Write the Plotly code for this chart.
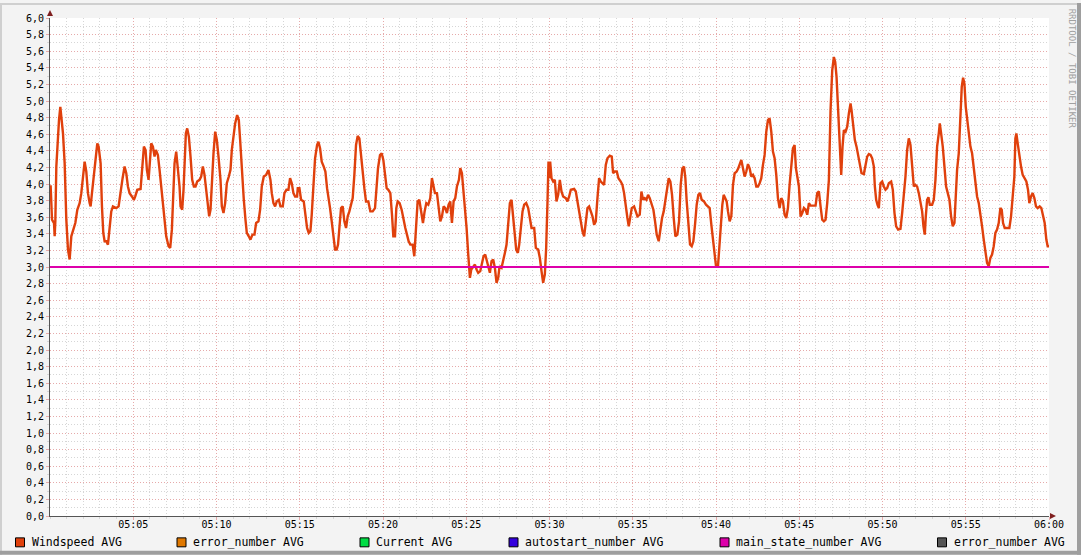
import pandas as pd
import plotly.graph_objects as go

# ---------------- data ----------------
# Windspeed AVG: (minutes after 05:00, value)
wind_part1 = [
    (0.00, 3.97), (0.04, 3.97), (0.12, 3.57), (0.24, 3.53), (0.28, 3.37), (0.32, 3.55), (0.38, 4.21), (0.44, 4.45), (0.54, 4.77), (0.62, 4.93),
    (0.72, 4.77), (0.78, 4.61), (0.88, 4.25), (0.98, 3.57), (1.08, 3.21), (1.18, 3.09), (1.28, 3.37), (1.38, 3.45), (1.52, 3.53), (1.64, 3.69),
    (1.78, 3.77), (1.88, 3.89), (1.98, 4.05), (2.08, 4.27), (2.18, 4.15), (2.28, 3.89), (2.38, 3.77), (2.44, 3.73), (2.52, 3.89), (2.62, 4.09),
    (2.72, 4.33), (2.84, 4.49), (2.92, 4.45), (3.04, 4.25), (3.12, 3.73), (3.20, 3.41), (3.28, 3.31), (3.38, 3.31), (3.48, 3.27), (3.58, 3.45),
    (3.68, 3.67), (3.78, 3.73), (3.98, 3.71), (4.12, 3.73), (4.24, 3.93), (4.36, 4.07), (4.48, 4.21), (4.58, 4.13), (4.68, 3.97), (4.78, 3.89),
    (4.92, 3.85), (5.04, 3.81), (5.12, 3.85), (5.24, 3.93), (5.44, 3.94), (5.54, 4.17), (5.64, 4.45), (5.74, 4.41), (5.82, 4.17), (5.92, 4.05),
    (5.98, 4.25), (6.08, 4.49), (6.18, 4.45), (6.28, 4.33), (6.36, 4.41), (6.48, 4.35), (6.58, 4.17), (6.68, 3.97), (6.78, 3.77), (6.88, 3.61),
    (6.98, 3.37), (7.12, 3.25), (7.22, 3.23), (7.32, 3.45), (7.40, 3.77), (7.48, 4.25), (7.58, 4.39), (7.68, 4.21), (7.78, 3.97), (7.84, 3.73),
    (7.94, 3.69), (8.02, 3.93), (8.08, 4.25), (8.16, 4.61), (8.24, 4.67), (8.34, 4.57), (8.44, 4.33), (8.54, 4.05), (8.64, 3.97), (8.74, 3.97),
    (8.84, 4.03), (8.98, 4.05), (9.08, 4.09), (9.18, 4.21), (9.28, 4.11), (9.38, 3.93), (9.48, 3.69), (9.56, 3.61), (9.64, 3.69), (9.72, 4.01),
    (9.82, 4.37), (9.92, 4.63), (10.02, 4.53), (10.12, 4.33), (10.24, 4.05), (10.32, 3.73), (10.42, 3.65), (10.52, 3.77), (10.62, 4.01), (10.74, 4.09),
    (10.84, 4.17), (10.92, 4.41), (11.02, 4.57), (11.12, 4.73), (11.24, 4.83), (11.34, 4.77), (11.42, 4.53), (11.52, 4.17), (11.64, 3.81), (11.74, 3.57),
    (11.82, 3.41), (11.94, 3.37), (12.04, 3.33), (12.16, 3.39), (12.28, 3.39), (12.38, 3.53), (12.52, 3.55), (12.62, 3.69), (12.72, 3.97), (12.84, 4.09),
    (12.98, 4.11), (13.12, 4.17), (13.24, 4.05), (13.32, 3.89), (13.42, 3.77), (13.52, 3.73), (13.62, 3.79), (13.74, 3.81), (13.84, 3.73), (13.98, 3.73),
    (14.08, 3.89), (14.20, 3.93), (14.32, 3.93), (14.42, 4.07), (14.52, 4.01), (14.62, 3.89), (14.72, 3.85), (14.84, 3.85),
]
wind_part2 = [
    (14.88, 3.95), (14.98, 3.95), (15.08, 3.81), (15.24, 3.79), (15.32, 3.67), (15.44, 3.47), (15.54, 3.41), (15.64, 3.43), (15.72, 3.63), (15.82, 3.95),
    (15.92, 4.31), (16.04, 4.47), (16.12, 4.51), (16.22, 4.43), (16.32, 4.27), (16.44, 4.21), (16.54, 4.15), (16.64, 3.95), (16.74, 3.83), (16.82, 3.71),
    (16.92, 3.55), (17.02, 3.35), (17.12, 3.21), (17.22, 3.21), (17.30, 3.27), (17.38, 3.47), (17.48, 3.71), (17.58, 3.73), (17.68, 3.55), (17.78, 3.47),
    (17.88, 3.61), (17.98, 3.67), (18.08, 3.75), (18.18, 3.83), (18.28, 4.11), (18.38, 4.47), (18.48, 4.58), (18.58, 4.55), (18.68, 4.35), (18.78, 4.11),
    (18.88, 3.95), (18.98, 3.79), (19.12, 3.79), (19.24, 3.67), (19.38, 3.67), (19.52, 3.71), (19.60, 3.91), (19.70, 4.19), (19.82, 4.35), (19.92, 4.37),
    (20.02, 4.29), (20.12, 4.15), (20.22, 3.95), (20.32, 3.93), (20.44, 3.89), (20.54, 3.63), (20.62, 3.37), (20.72, 3.37), (20.80, 3.71), (20.88, 3.79),
    (21.00, 3.77), (21.12, 3.69), (21.24, 3.55), (21.34, 3.47), (21.44, 3.39), (21.54, 3.31), (21.64, 3.27), (21.78, 3.27), (21.88, 3.13), (21.98, 3.55),
    (22.08, 3.79), (22.18, 3.81), (22.28, 3.67), (22.40, 3.53), (22.50, 3.67), (22.60, 3.77), (22.72, 3.75), (22.84, 3.83), (22.94, 4.07), (23.02, 3.99),
    (23.12, 3.89), (23.24, 3.89), (23.34, 3.71), (23.44, 3.55), (23.54, 3.61), (23.64, 3.73), (23.74, 3.71), (23.84, 3.65), (23.94, 3.75), (24.04, 3.79),
    (24.14, 3.53), (24.24, 3.79), (24.34, 3.83), (24.44, 3.97), (24.56, 4.05), (24.64, 4.19), (24.74, 4.13), (24.82, 3.95), (24.92, 3.71), (25.02, 3.47),
    (25.12, 3.15), (25.22, 2.87), (25.30, 2.97), (25.42, 3.01), (25.52, 3.03), (25.62, 2.97), (25.72, 2.93), (25.84, 2.95), (25.94, 3.05), (26.04, 3.13),
    (26.14, 3.15), (26.24, 3.07), (26.32, 2.99), (26.42, 2.93), (26.52, 3.07), (26.62, 3.09), (26.72, 2.99), (26.82, 2.81), (26.92, 2.87), (27.00, 3.01),
    (27.12, 2.99), (27.22, 3.07), (27.32, 3.17), (27.42, 3.27), (27.52, 3.59), (27.62, 3.77), (27.72, 3.81), (27.80, 3.63), (27.90, 3.43), (28.00, 3.21),
    (28.10, 3.17), (28.18, 3.27), (28.28, 3.47), (28.38, 3.67), (28.48, 3.75), (28.60, 3.77), (28.72, 3.71), (28.82, 3.59), (28.92, 3.47), (29.08, 3.47),
    (29.18, 3.23), (29.32, 3.21), (29.42, 3.11), (29.52, 2.95), (29.62, 2.81), (29.72, 2.91), (29.80, 3.23), (29.88, 3.79),
]
wind_part3 = [
    (29.94, 4.27), (29.98, 4.07), (30.04, 4.27), (30.12, 4.07), (30.22, 4.03), (30.32, 4.05), (30.42, 3.79), (30.52, 3.87), (30.62, 4.05), (30.72, 3.91),
    (30.82, 3.85), (30.98, 3.83), (31.08, 3.79), (31.18, 3.85), (31.28, 3.93), (31.48, 3.94), (31.58, 3.91), (31.68, 3.79), (31.78, 3.67), (31.88, 3.51),
    (31.98, 3.43), (32.08, 3.37), (32.18, 3.51), (32.28, 3.71), (32.38, 3.73), (32.48, 3.67), (32.58, 3.61), (32.68, 3.51), (32.78, 3.55), (32.88, 3.83),
    (32.98, 4.07), (33.08, 4.03), (33.18, 4.01), (33.28, 3.99), (33.38, 4.23), (33.48, 4.31), (33.62, 4.34), (33.74, 4.33), (33.82, 4.13), (33.92, 4.15),
    (34.04, 4.15), (34.14, 4.07), (34.28, 4.03), (34.38, 3.99), (34.48, 3.89), (34.58, 3.71), (34.68, 3.59), (34.76, 3.49), (34.84, 3.59), (34.94, 3.71),
    (35.08, 3.73), (35.18, 3.67), (35.28, 3.61), (35.42, 3.63), (35.52, 3.91), (35.62, 3.81), (35.72, 3.83), (35.82, 3.81), (35.92, 3.87), (36.02, 3.83),
    (36.12, 3.75), (36.24, 3.69), (36.34, 3.55), (36.44, 3.39), (36.56, 3.31), (36.66, 3.47), (36.76, 3.59), (36.86, 3.67), (36.96, 3.79), (37.06, 3.95),
    (37.16, 4.07), (37.26, 4.03), (37.36, 3.87), (37.46, 3.59), (37.56, 3.37), (37.68, 3.39), (37.78, 3.55), (37.88, 3.99), (37.98, 4.19), (38.08, 4.21),
    (38.16, 4.07), (38.24, 3.79), (38.34, 3.55), (38.44, 3.27), (38.54, 3.25), (38.64, 3.31), (38.74, 3.51), (38.84, 3.75), (38.94, 3.87), (39.04, 3.89),
    (39.14, 3.81), (39.28, 3.79), (39.40, 3.75), (39.52, 3.73), (39.62, 3.71), (39.72, 3.51), (39.82, 3.35), (39.92, 3.15), (40.00, 3.01), (40.12, 3.01),
    (40.20, 3.23), (40.28, 3.55), (40.38, 3.75), (40.46, 3.87), (40.56, 3.83), (40.64, 3.79), (40.72, 3.67), (40.82, 3.55), (40.92, 3.61), (41.02, 3.99),
    (41.12, 4.13), (41.24, 4.15), (41.34, 4.19), (41.44, 4.25), (41.52, 4.29), (41.62, 4.19), (41.72, 4.09), (41.82, 4.15), (41.92, 4.24), (42.02, 4.19),
    (42.12, 4.09), (42.22, 4.11), (42.32, 4.07), (42.42, 3.97), (42.52, 3.97), (42.62, 4.01), (42.72, 4.07), (42.82, 4.23), (42.92, 4.35), (43.02, 4.63),
    (43.12, 4.77), (43.22, 4.79), (43.32, 4.63), (43.42, 4.39), (43.52, 4.31), (43.62, 4.11), (43.72, 3.83), (43.82, 3.71), (43.92, 3.83), (44.02, 3.79),
    (44.12, 3.63), (44.22, 3.59), (44.32, 3.71), (44.42, 3.99), (44.52, 4.27), (44.62, 4.43), (44.72, 4.47), (44.80, 4.19), (44.90, 4.07),
]
wind_part4 = [
    (44.98, 3.97), (45.08, 3.61), (45.18, 3.65), (45.28, 3.71), (45.38, 3.69), (45.48, 3.63), (45.58, 3.77), (45.68, 3.74), (45.98, 3.74), (46.08, 3.89),
    (46.18, 3.91), (46.28, 3.73), (46.38, 3.57), (46.48, 3.55), (46.58, 3.57), (46.68, 3.77), (46.78, 4.05), (46.88, 4.89), (46.98, 5.37), (47.08, 5.53),
    (47.16, 5.47), (47.24, 5.29), (47.34, 4.85), (47.44, 4.49), (47.52, 4.11), (47.60, 4.45), (47.68, 4.65), (47.78, 4.63), (47.88, 4.69), (47.98, 4.85),
    (48.08, 4.97), (48.14, 4.89), (48.24, 4.69), (48.34, 4.53), (48.44, 4.45), (48.54, 4.33), (48.64, 4.21), (48.74, 4.13), (48.88, 4.12), (48.98, 4.25),
    (49.08, 4.33), (49.18, 4.36), (49.28, 4.35), (49.38, 4.31), (49.48, 4.21), (49.54, 3.97), (49.62, 3.81), (49.70, 3.75), (49.78, 3.71), (49.88, 4.01),
    (49.98, 4.03), (50.08, 3.97), (50.18, 3.93), (50.28, 3.95), (50.38, 4.01), (50.52, 4.03), (50.62, 3.93), (50.72, 3.65), (50.82, 3.49), (50.94, 3.45),
    (51.08, 3.46), (51.18, 3.65), (51.28, 3.85), (51.38, 4.09), (51.48, 4.41), (51.58, 4.55), (51.68, 4.47), (51.78, 4.25), (51.88, 3.97), (51.98, 3.99),
    (52.08, 3.97), (52.18, 3.89), (52.28, 3.77), (52.38, 3.67), (52.46, 3.49), (52.54, 3.39), (52.60, 3.61), (52.68, 3.81), (52.76, 3.84), (52.84, 3.75),
    (52.98, 3.75), (53.08, 3.81), (53.18, 4.05), (53.28, 4.45), (53.38, 4.61), (53.44, 4.73), (53.52, 4.61), (53.62, 4.45), (53.72, 4.21), (53.82, 3.97),
    (53.92, 3.89), (54.02, 3.81), (54.12, 3.61), (54.22, 3.49), (54.32, 3.53), (54.40, 3.85), (54.48, 4.17), (54.58, 4.37), (54.68, 4.89), (54.76, 5.17),
    (54.84, 5.28), (54.92, 5.21), (55.00, 4.93), (55.08, 4.81), (55.18, 4.61), (55.28, 4.45), (55.38, 4.37), (55.48, 4.21), (55.58, 4.05), (55.68, 3.85),
    (55.78, 3.77), (55.88, 3.65), (55.98, 3.49), (56.08, 3.33), (56.18, 3.15), (56.28, 3.05), (56.38, 3.01), (56.48, 3.11), (56.58, 3.15), (56.68, 3.25),
    (56.78, 3.41), (56.88, 3.45), (56.98, 3.53), (57.08, 3.71), (57.16, 3.69), (57.24, 3.53), (57.34, 3.47), (57.62, 3.47), (57.72, 3.61), (57.82, 3.85),
    (57.92, 4.09), (57.98, 4.55), (58.04, 4.61), (58.12, 4.49), (58.22, 4.33), (58.32, 4.21), (58.42, 4.11), (58.52, 4.07), (58.64, 4.03), (58.74, 3.93),
    (58.82, 3.77), (58.92, 3.85), (59.02, 3.89), (59.12, 3.83), (59.22, 3.73), (59.32, 3.71), (59.44, 3.73), (59.54, 3.71), (59.64, 3.63), (59.74, 3.53),
    (59.84, 3.33), (59.92, 3.25), (60.00, 3.25),
]

# main_state_number AVG (constant)
main_state_minutes = [0.0, 60.0]
main_state_values = [3.0, 3.0]

start_time = "2024-01-01 05:00:00"
tick_labels = ["05:05", "05:10", "05:15", "05:20", "05:25", "05:30",
               "05:35", "05:40", "05:45", "05:50", "05:55", "06:00"]
tick_minutes = [5, 10, 15, 20, 25, 30, 35, 40, 45, 50, 55, 60]

legend_names = ["Windspeed AVG", "error_number AVG", "Current AVG",
                "autostart_number AVG", "main_state_number AVG", "error_number AVG"]
legend_colors = ["#E0400C", "#E07800", "#00DD44", "#3300DD", "#DD00AA", "#555555"]

# ---------------- figure ----------------
W, H = 1081, 555
ML, MR, MT, MB = 50, 32, 15, 39
PW, PH = W - ML - MR, H - MT - MB

base = pd.Timestamp(start_time)
wind = wind_part1 + wind_part2 + wind_part3 + wind_part4
wind_x = [base + pd.Timedelta(minutes=m) for m, _ in wind]
wind_y = [v for _, v in wind]
ms_x = [base + pd.Timedelta(minutes=m) for m in main_state_minutes]
tickvals = [base + pd.Timedelta(minutes=m) for m in tick_minutes]


def xp(px):
    return (px - ML) / PW


def yp(py):
    return (H - MB - py) / PH


FONT = "DejaVu Sans Mono"
MGRID = "#e6aaaa"
GRID = "#d6d6d6"

fig = go.Figure()
fig.add_trace(go.Scatter(x=wind_x, y=wind_y, mode="lines",
                         line=dict(color=legend_colors[0], width=2.4),
                         name=legend_names[0], showlegend=False, hoverinfo="skip"))
fig.add_trace(go.Scatter(x=ms_x, y=main_state_values, mode="lines",
                         line=dict(color=legend_colors[4], width=2),
                         name=legend_names[4], showlegend=False, hoverinfo="skip"))

fig.update_layout(
    width=W, height=H,
    margin=dict(l=ML, r=MR, t=MT, b=MB, pad=0),
    paper_bgcolor="#f3f3f3", plot_bgcolor="#ffffff",
    separators=",.",
    showlegend=False,
    font=dict(family=FONT, size=10, color="#000000"),
)
fig.update_xaxes(
    type="date",
    range=[base, base + pd.Timedelta(minutes=60)],
    tickvals=tickvals, ticktext=tick_labels,
    tickfont=dict(family=FONT, size=10, color="#000000"),
    ticklabelstandoff=-4,
    showgrid=True, gridcolor=MGRID, griddash="1px,2px", gridwidth=1,
    ticks="outside", ticklen=3, tickcolor=MGRID,
    minor=dict(dtick=60000, tick0=base, showgrid=True, gridcolor=GRID,
               griddash="1px,2px", ticks="outside", ticklen=2, tickcolor=GRID),
    showline=True, linecolor="#555555", linewidth=1,
    zeroline=False, fixedrange=True,
)
fig.update_yaxes(
    range=[0, 6], dtick=0.2, tick0=0, tickformat=".1f",
    tickfont=dict(family=FONT, size=10, color="#000000"),
    showgrid=True, gridcolor=MGRID, griddash="1px,2px", gridwidth=1,
    ticks="outside", ticklen=3, tickcolor=MGRID,
    minor=dict(dtick=0.1, tick0=0, showgrid=True, gridcolor=GRID,
               griddash="1px,2px", ticks="outside", ticklen=2, tickcolor=GRID),
    showline=True, linecolor="#555555", linewidth=1,
    zeroline=False, fixedrange=True,
)

shapes = []
# axis arrows
shapes.append(dict(type="path", xref="paper", yref="paper",
                   path=f"M {xp(1050)} {yp(513)} L {xp(1056)} {yp(516)} L {xp(1050)} {yp(519)} Z",
                   fillcolor="#7f1f1f", line=dict(width=0)))
shapes.append(dict(type="path", xref="paper", yref="paper",
                   path=f"M {xp(47)} {yp(13)} L {xp(50)} {yp(7)} L {xp(53)} {yp(13)} Z",
                   fillcolor="#7f1f1f", line=dict(width=0)))
# frame shading
shapes.append(dict(type="rect", xref="paper", yref="paper",
                   x0=xp(0), x1=xp(W), y0=yp(0), y1=yp(2), fillcolor="#cfcfcf", line=dict(width=0)))
shapes.append(dict(type="rect", xref="paper", yref="paper",
                   x0=xp(0), x1=xp(2), y0=yp(0), y1=yp(H), fillcolor="#cfcfcf", line=dict(width=0)))
shapes.append(dict(type="rect", xref="paper", yref="paper",
                   x0=xp(W - 4), x1=xp(W), y0=yp(0), y1=yp(H), fillcolor="#9e9e9e", line=dict(width=0)))
shapes.append(dict(type="rect", xref="paper", yref="paper",
                   x0=xp(0), x1=xp(W), y0=yp(H - 4), y1=yp(H), fillcolor="#9e9e9e", line=dict(width=0)))

annotations = []
legend_square_x = [15.5, 177, 360, 509, 720, 937.5]
for i, (name, col) in enumerate(zip(legend_names, legend_colors)):
    sx = legend_square_x[i]
    shapes.append(dict(type="rect", xref="paper", yref="paper",
                       x0=xp(sx), x1=xp(sx + 9), y0=yp(547), y1=yp(538),
                       fillcolor=col, line=dict(color="#000000", width=1)))
    annotations.append(dict(xref="paper", yref="paper", x=xp(sx + 14), y=yp(542.5),
                            text=name, showarrow=False, xanchor="left", yanchor="middle",
                            font=dict(family=FONT, size=11.5, color="#000000")))

annotations.append(dict(xref="paper", yref="paper", x=xp(1072), y=yp(66),
                        text="RRDTOOL / TOBI OETIKER", showarrow=False, textangle=90,
                        xanchor="center", yanchor="middle",
                        font=dict(family=FONT, size=9, color="#a0a0a0")))

fig.update_layout(shapes=shapes, annotations=annotations)

fig.write_html("out.html", config={"displayModeBar": False},
               post_script="document.body.style.margin='0';")
